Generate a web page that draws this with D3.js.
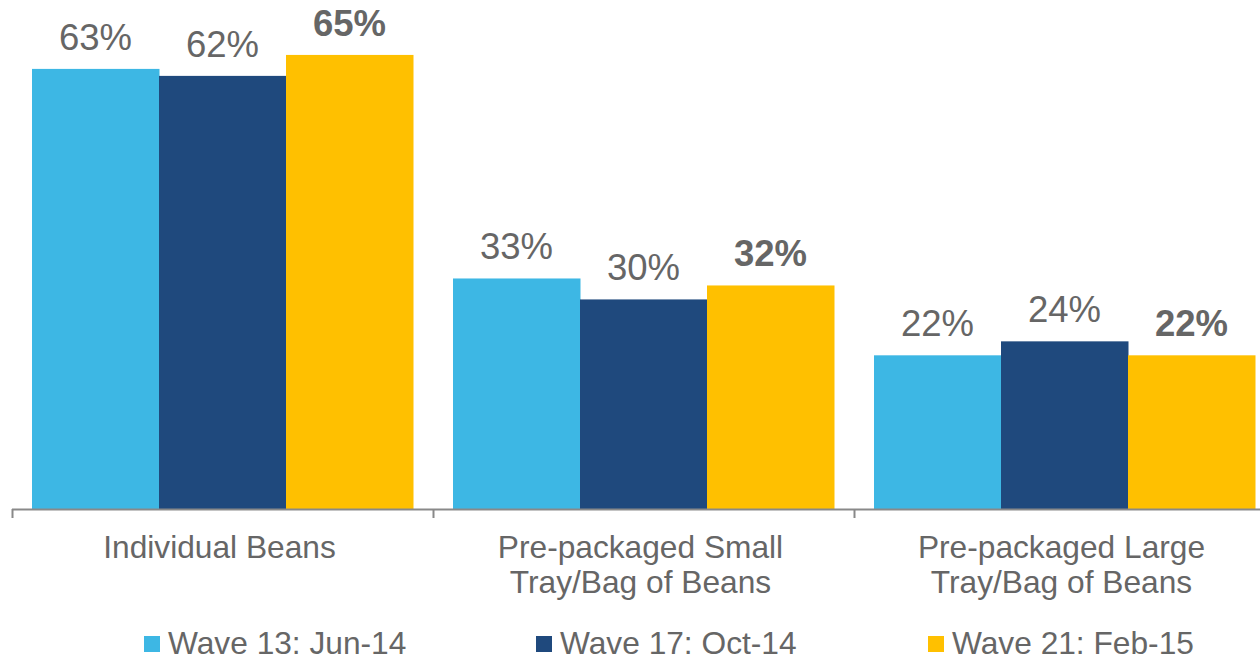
<!DOCTYPE html>
<html>
<head>
<meta charset="utf-8">
<script src="https://cdn.jsdelivr.net/npm/d3@7"></script>
<style>
  html, body { margin: 0; padding: 0; background: #fff; }
  svg { display: block; font-family: Arial, "Liberation Sans", sans-serif; }
</style>
</head>
<body>
<svg id="chart" width="1260" height="660"></svg>
<script>
// Bean purchase format by survey wave (percent)
const categories = [
  ["Individual Beans"],
  ["Pre-packaged Small", "Tray/Bag of Beans"],
  ["Pre-packaged Large", "Tray/Bag of Beans"]
];
const seriesNames = ["Wave 13: Jun-14", "Wave 17: Oct-14", "Wave 21: Feb-15"];
const wave13 = [63, 33, 22];
const wave17 = [62, 30, 24];
const wave21 = [65, 32, 22];
const seriesValues = [wave13, wave17, wave21];
const colors = ["#3DB7E4", "#1F497D", "#FFC000"];
const boldSeries = [false, false, true];

const svg = d3.select("#chart");
const catKeys = categories.map(c => c.join(" "));

const x0 = d3.scaleBand().domain(catKeys).range([12, 1275]).padding(0);
const x1 = d3.scaleBand().domain(seriesNames).range([20, x0.bandwidth() - 20]).padding(0);
const y = d3.scaleLinear().domain([0, 70]).range([509, 20]);

const textColor = "#666666";

// bars and value labels
seriesNames.forEach((s, si) => {
  const g = svg.append("g");
  g.selectAll("rect")
    .data(catKeys)
    .join("rect")
    .attr("x", c => x0(c) + x1(s))
    .attr("y", (c, i) => y(seriesValues[si][i]))
    .attr("width", x1.bandwidth() + 0.5)
    .attr("height", (c, i) => y(0) - y(seriesValues[si][i]))
    .attr("fill", colors[si]);
  g.selectAll("text")
    .data(catKeys)
    .join("text")
    .attr("x", c => x0(c) + x1(s) + x1.bandwidth() / 2)
    .attr("y", (c, i) => y(seriesValues[si][i]) - 19)
    .attr("text-anchor", "middle")
    .attr("font-size", 36.5)
    .attr("font-weight", boldSeries[si] ? "bold" : "normal")
    .attr("fill", textColor)
    .text((c, i) => seriesValues[si][i] + "%");
});

// category axis: baseline with ticks at band boundaries
const axis = svg.append("g").attr("stroke", "#898989").attr("stroke-width", 2);
axis.append("line")
  .attr("x1", x0.range()[0]).attr("x2", x0.range()[1])
  .attr("y1", y(0) + 0.5).attr("y2", y(0) + 0.5);
const bounds = catKeys.map(c => x0(c)).concat([x0.range()[1]]);
axis.selectAll("line.tick")
  .data(bounds)
  .join("line")
  .attr("class", "tick")
  .attr("x1", d => d + 0.5).attr("x2", d => d + 0.5)
  .attr("y1", y(0)).attr("y2", y(0) + 9);

// category labels
const catLabels = svg.append("g");
catKeys.forEach((c, i) => {
  const cx = x0(c) + x0.bandwidth() / 2 - 3;
  const t = catLabels.append("text")
    .attr("x", cx)
    .attr("y", 558)
    .attr("text-anchor", "middle")
    .attr("font-size", 31.7)
    .attr("fill", textColor);
  categories[i].forEach((line, li) => {
    t.append("tspan")
      .attr("x", cx)
      .attr("dy", li === 0 ? 0 : 34.5)
      .text(line);
  });
});

// legend
const legendX = d3.scalePoint().domain(seriesNames).range([144, 928]);
const legend = svg.append("g");
seriesNames.forEach((s, si) => {
  legend.append("rect")
    .attr("x", legendX(s)).attr("y", 636)
    .attr("width", 16).attr("height", 16)
    .attr("fill", colors[si]);
  legend.append("text")
    .attr("x", legendX(s) + 24).attr("y", 654)
    .attr("font-size", 31.7)
    .attr("fill", textColor)
    .text(s);
});
</script>
</body>
</html>
